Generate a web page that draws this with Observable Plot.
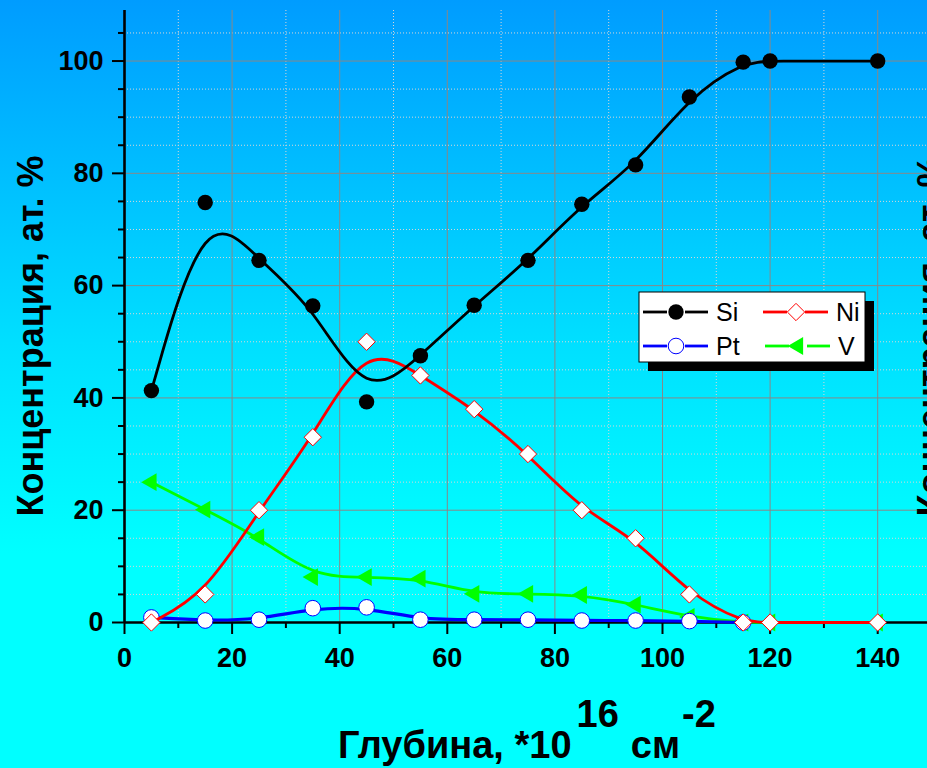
<!DOCTYPE html>
<html><head><meta charset="utf-8">
<script src="https://cdn.jsdelivr.net/npm/d3@7"></script>
<script src="https://cdn.jsdelivr.net/npm/@observablehq/plot@0.6"></script>
<style>
html,body{margin:0;padding:0;width:927px;height:768px;overflow:hidden;}
body{background:linear-gradient(to bottom,#009cff 0%,#00e0ff 45%,#00ffff 72%,#00ffff 100%);font-family:"Liberation Sans",Arial,sans-serif;}
#chart{position:relative;width:927px;height:768px;}
</style></head><body><div id="chart"></div>
<script>
// Data
const depth = [5,15,25,35,45,55,65,75,85,95,105,115,120,140];
const si = [41.3,74.8,64.5,56.4,39.3,47.5,56.5,64.5,74.5,81.5,93.6,99.8,100,100];
const ni = [0,5,20,33,50,44,38,30,20,15,5,0,0,0];
const ptDepth = [5,15,25,35,45,55,65,75,85,95,105,115];
const pt = [0.9,0.35,0.5,2.55,2.7,0.5,0.5,0.5,0.35,0.35,0.25,0];
const v = [25,20.1,15.2,8.1,8.1,7.8,5.1,5.1,4.9,3.2,1.0,0,0,0];
const xMajor = [0,20,40,60,80,100,120,140];
const xMinor = [10,30,50,70,90,110,130,150];
const yMajor = [0,20,40,60,80,100];
const yMinor = [5,10,15,25,30,35,45,50,55,65,70,75,85,90,95,105];
const seriesNames = ["Si","Ni","Pt","V"];
const xTitle = ["Глубина, *10","16","см","-2"];
const yTitle = "Концентрация, ат. %";

const rows = (xs, ys) => xs.map((x,i)=>({x, y: ys[i]}));
const siData = rows(depth, si), niData = rows(depth, ni), ptData = rows(ptDepth, pt), vData = rows(depth, v);

const triLeft = {draw(ctx, size){ const y = Math.sqrt(size/(Math.sqrt(3)*3)); ctx.moveTo(-2*y,0); ctx.lineTo(y,-Math.sqrt(3)*y); ctx.lineTo(y,Math.sqrt(3)*y); ctx.closePath(); }};

const font = "Liberation Sans, Arial, sans-serif";
const plot = Plot.plot({
  width: 935, height: 768,
  marginLeft: 124, marginRight: 4, marginTop: 10, marginBottom: 146,
  x: {domain: [0,150]}, y: {domain: [0,109]},
  style: {background: "transparent", maxWidth: "none", fontFamily: font, overflow: "visible"},
  marks: [
    Plot.ruleX(xMinor, {stroke: "#d6d6d6", strokeDasharray: "1,2", strokeWidth: 1}),
    Plot.ruleY(yMinor, {stroke: "#d6d6d6", strokeDasharray: "1,2", strokeWidth: 1}),
    Plot.ruleX(xMajor.filter(d => d > 0), {stroke: "#888", strokeWidth: 1}),
    Plot.ruleY(yMajor.filter(d => d > 0), {stroke: "#888", strokeWidth: 1}),
    Plot.axisX({ticks: xMajor, tickSize: 12, tickPadding: 13, fontSize: 27, fontWeight: "bold", strokeWidth: 2, label: null, tickFormat: d => d}),
    Plot.axisX({ticks: xMinor, tickSize: 6, strokeWidth: 2, label: null, tickFormat: () => ""}),
    Plot.axisY({ticks: yMajor, tickSize: 12, tickPadding: 9, fontSize: 27, fontWeight: "bold", strokeWidth: 2, label: null, tickFormat: d => d}),
    Plot.axisY({ticks: yMinor, tickSize: 6, strokeWidth: 2, label: null, tickFormat: () => ""}),
    Plot.ruleX([0], {strokeWidth: 2.6, stroke: "#000"}),
    Plot.ruleY([0], {strokeWidth: 2.6, stroke: "#000"}),
    Plot.line(vData, {x: "x", y: "y", curve: "basis", stroke: "#00ff00", strokeWidth: 2.8}),
    Plot.dot(vData, {x: "x", y: "y", symbol: triLeft, r: 6.6, fill: "#00ff00", stroke: "none"}),
    Plot.line(ptData, {x: "x", y: "y", curve: "basis", stroke: "#0000ff", strokeWidth: 3.2}),
    Plot.dot(ptData, {x: "x", y: "y", r: 7.8, fill: "#fff", stroke: "#0000ff", strokeWidth: 1}),
    Plot.line(niData, {x: "x", y: "y", curve: "basis", stroke: "#ff0000", strokeWidth: 2.8}),
    Plot.dot(niData, {x: "x", y: "y", symbol: "diamond2", r: 7.8, fill: "#fff", stroke: "#ff0000", strokeWidth: 1}),
    Plot.line(siData, {x: "x", y: "y", curve: "basis", stroke: "#000", strokeWidth: 2.8}),
    Plot.dot(siData, {x: "x", y: "y", r: 7.7, fill: "#000", stroke: "none"})
  ]
});
document.getElementById("chart").appendChild(plot);

const svg = d3.select(plot);
// Axis titles
svg.append("text").attr("transform", "translate(43,336) rotate(-90)")
  .attr("text-anchor", "middle").attr("font-size", 36).attr("font-weight", "bold")
  .attr("font-family", font).attr("fill", "#000").text(yTitle);
svg.append("text").attr("transform", "translate(943,336) rotate(-90)")
  .attr("text-anchor", "middle").attr("font-size", 36).attr("font-weight", "bold")
  .attr("font-family", font).attr("fill", "#000").text(yTitle);
const xt = svg.append("text").attr("x", 338).attr("y", 758).attr("text-anchor", "start")
  .attr("font-size", 38).attr("font-weight", "bold").attr("font-family", font).attr("fill", "#000");
xt.append("tspan").text(xTitle[0]);
xt.append("tspan").attr("dx", 5).attr("dy", -31).text(xTitle[1]);
xt.append("tspan").attr("dx", 12).attr("dy", 31).text(xTitle[2]);
xt.append("tspan").attr("dx", 2).attr("dy", -31).text(xTitle[3]);

// Legend
const lg = svg.append("g").attr("transform", "translate(639,292)");
lg.append("rect").attr("x", 9).attr("y", 9).attr("width", 226).attr("height", 70).attr("fill", "#000");
lg.append("rect").attr("x", 0).attr("y", 0).attr("width", 226).attr("height", 70).attr("fill", "#fff").attr("stroke", "#000").attr("stroke-width", 1);
const sym = (type, r) => d3.symbol(type, Math.PI * r * r)();
const entries = [
  {name: seriesNames[0], color: "#000", x: 4, y: 20, path: sym(d3.symbolCircle, 7.7), fill: "#000", stroke: "none"},
  {name: seriesNames[1], color: "#ff0000", x: 124, y: 20, path: sym(d3.symbolDiamond2, 7.8), fill: "#fff", stroke: "#ff0000"},
  {name: seriesNames[2], color: "#0000ff", x: 4, y: 54, path: sym(d3.symbolCircle, 7.8), fill: "#fff", stroke: "#0000ff"},
  {name: seriesNames[3], color: "#00ff00", x: 126, y: 54, path: sym(triLeft, 6.6), fill: "#00ff00", stroke: "none"}
];
for (const e of entries) {
  const g = lg.append("g").attr("transform", `translate(${e.x},${e.y})`);
  g.append("line").attr("x1", 0).attr("x2", 24).attr("stroke", e.color).attr("stroke-width", 2.8);
  g.append("line").attr("x1", 42).attr("x2", 65).attr("stroke", e.color).attr("stroke-width", 2.8);
  g.append("path").attr("d", e.path).attr("transform", "translate(33,0)").attr("fill", e.fill).attr("stroke", e.stroke).attr("stroke-width", 1);
  g.append("text").attr("x", 73).attr("y", 9).attr("text-anchor", "start").attr("font-size", 25).attr("font-family", font).attr("fill", "#000").text(e.name);
}
</script></body></html>
